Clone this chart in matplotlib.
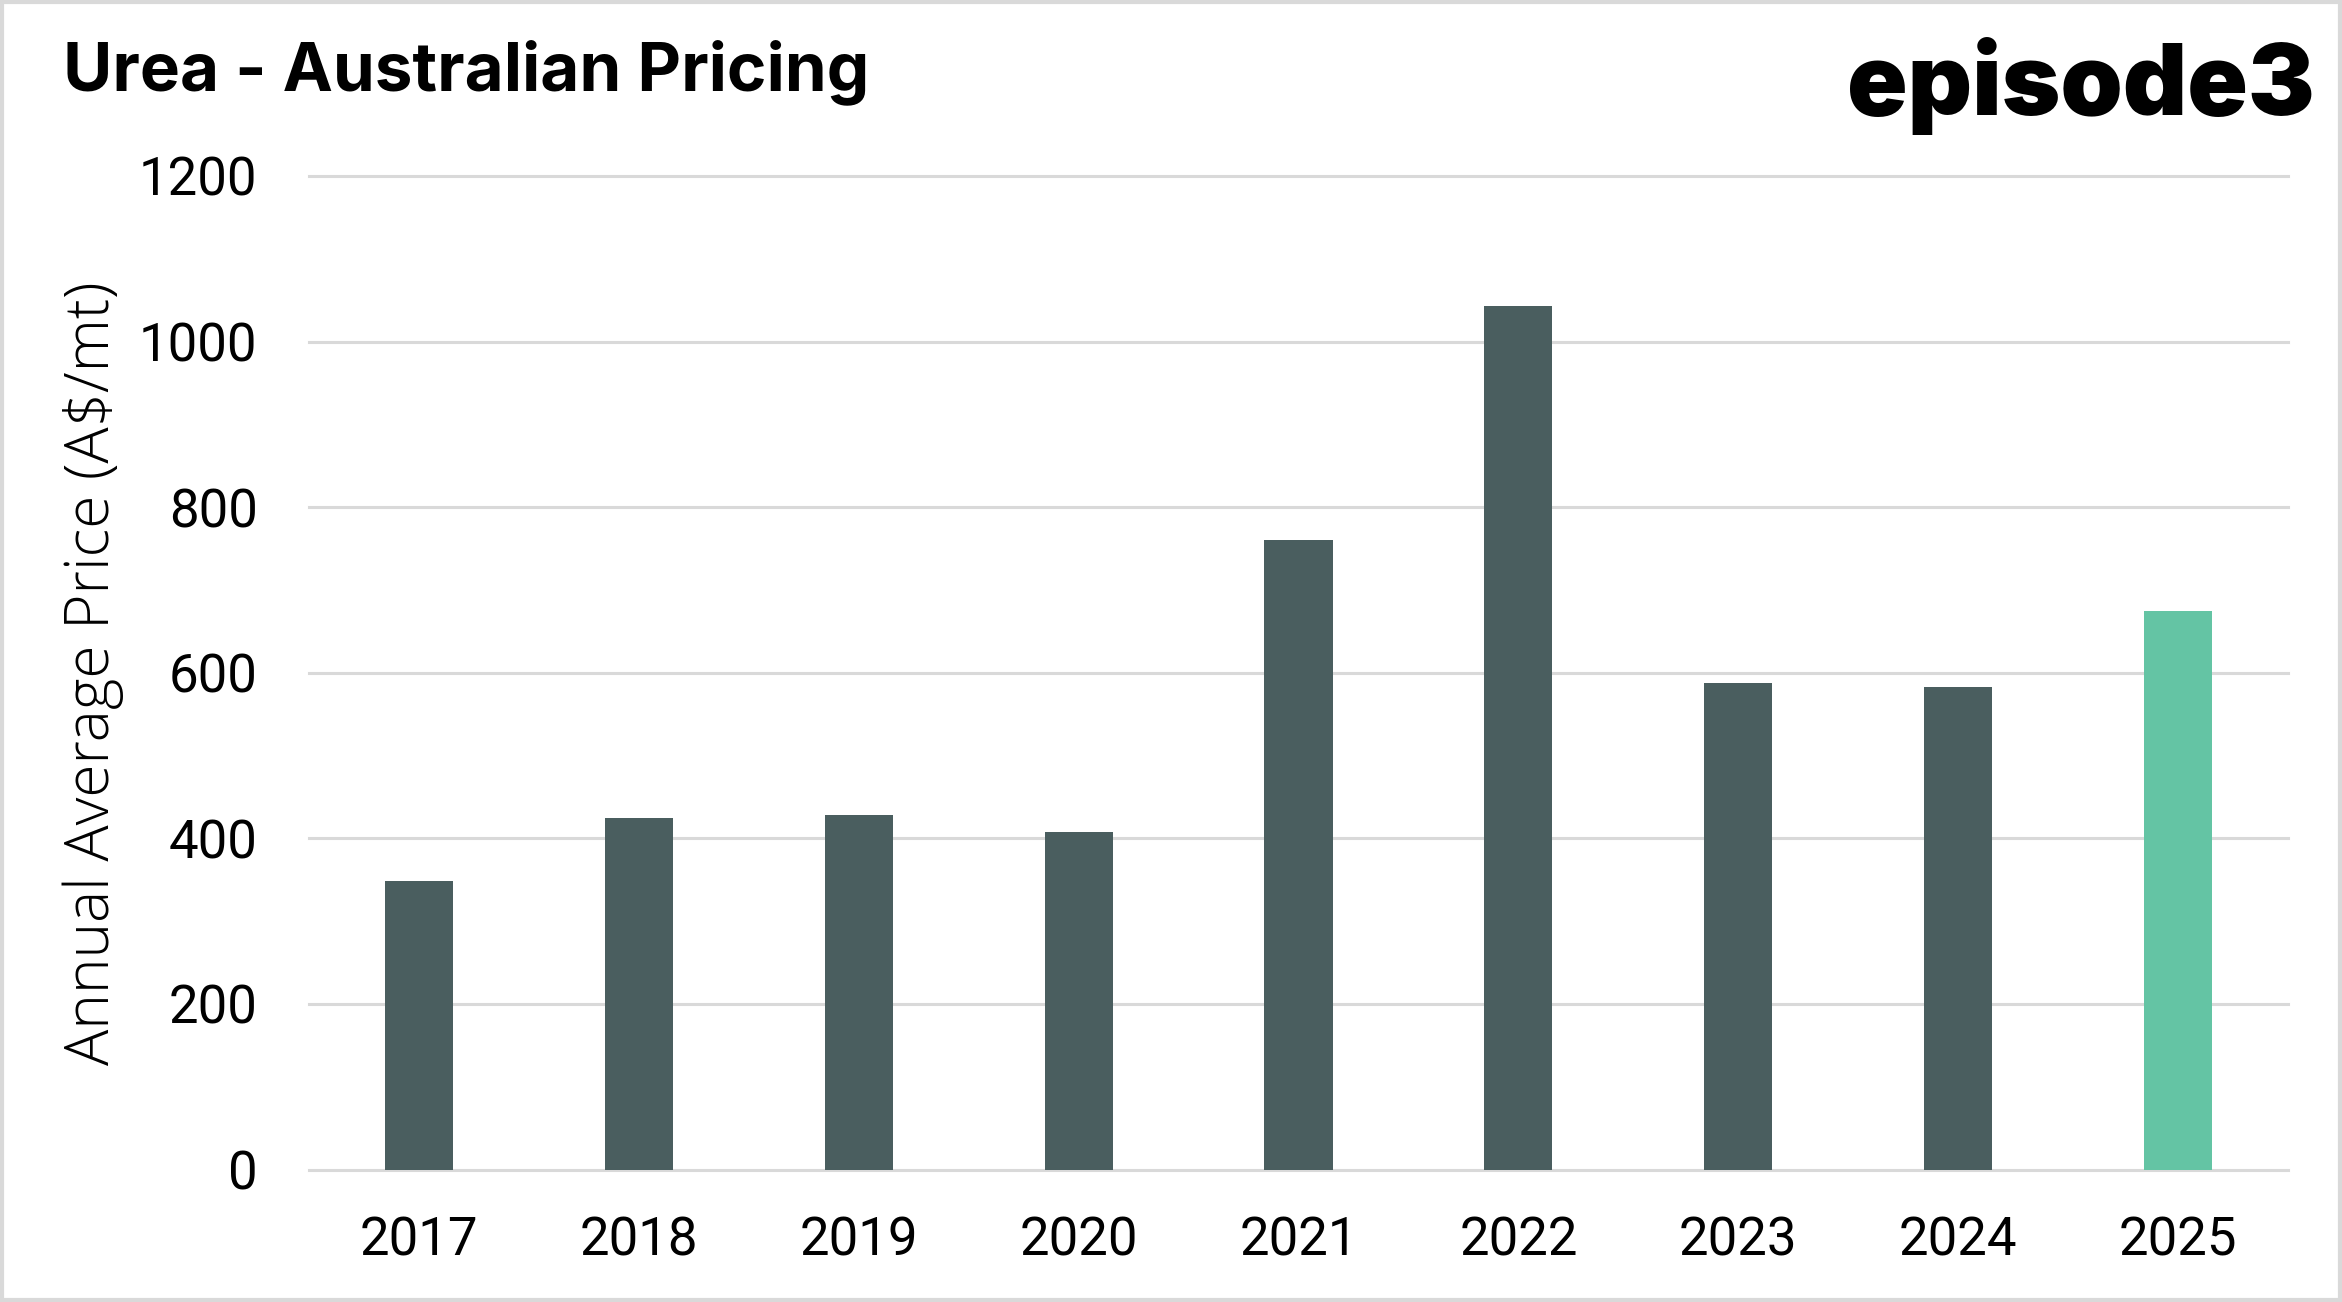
import matplotlib
matplotlib.use("Agg")
import matplotlib.pyplot as plt
from matplotlib.patches import Rectangle

years = ["2017", "2018", "2019", "2020", "2021", "2022", "2023", "2024", "2025"]
prices = [348, 424, 428, 408, 760, 1043, 588, 583, 675]
bar_colors = ["#4A5E5F"] * 8 + ["#64C4A4"]
yticks = [0, 200, 400, 600, 800, 1000, 1200]

W, H = 2342, 1302
fig = plt.figure(figsize=(W / 100, H / 100), dpi=100)
fig.patch.set_facecolor("white")

ax = fig.add_axes([309 / W, 132.5 / H, (2288 - 309) / W, (1126 - 132.5) / H])
x = list(range(len(years)))
ax.bar(x, prices, width=0.31, color=bar_colors, zorder=3)
ax.set_xlim(-0.5, len(years) - 0.5)
ax.set_ylim(0, 1200)
ax.set_yticks(yticks)
ax.set_yticklabels([str(v) for v in yticks])
ax.set_xticks(x)
ax.set_xticklabels(years)
for s in ax.spines.values():
    s.set_visible(False)
ax.grid(axis="y", color="#D9D9D9", linewidth=2.2, zorder=0)
for gl in ax.get_ygridlines():
    gl.set_clip_on(False)
ax.tick_params(axis="both", length=0, labelsize=38, colors="black")
ax.tick_params(axis="y", pad=37)
ax.tick_params(axis="x", pad=33)
for lab in ax.get_xticklabels() + ax.get_yticklabels():
    lab.set_fontfamily("Roboto")
    lab.set_fontweight("normal")

fig.text(93 / W, 0.483, "Annual Average Price (A$/mt)", rotation=90,
         ha="center", va="center", fontsize=43.5, family="Open Sans",
         fontweight="light", color="black")

fig.text(63 / W, 1 - 90 / H, "Urea - Australian Pricing", ha="left", va="baseline",
         fontsize=48.5, fontweight="bold", family="Inter", color="black")

fig.text(2315 / W, 1 - 115 / H, "episode3", ha="right", va="baseline",
         fontsize=72, fontweight="black", family="Inter", color="black")

fig.patches.append(Rectangle((0.0008, 0.0015), 0.9984, 0.997, transform=fig.transFigure,
                             fill=False, edgecolor="#D9D9D9", linewidth=3))

fig.savefig("out.png", dpi=100, facecolor="white")
